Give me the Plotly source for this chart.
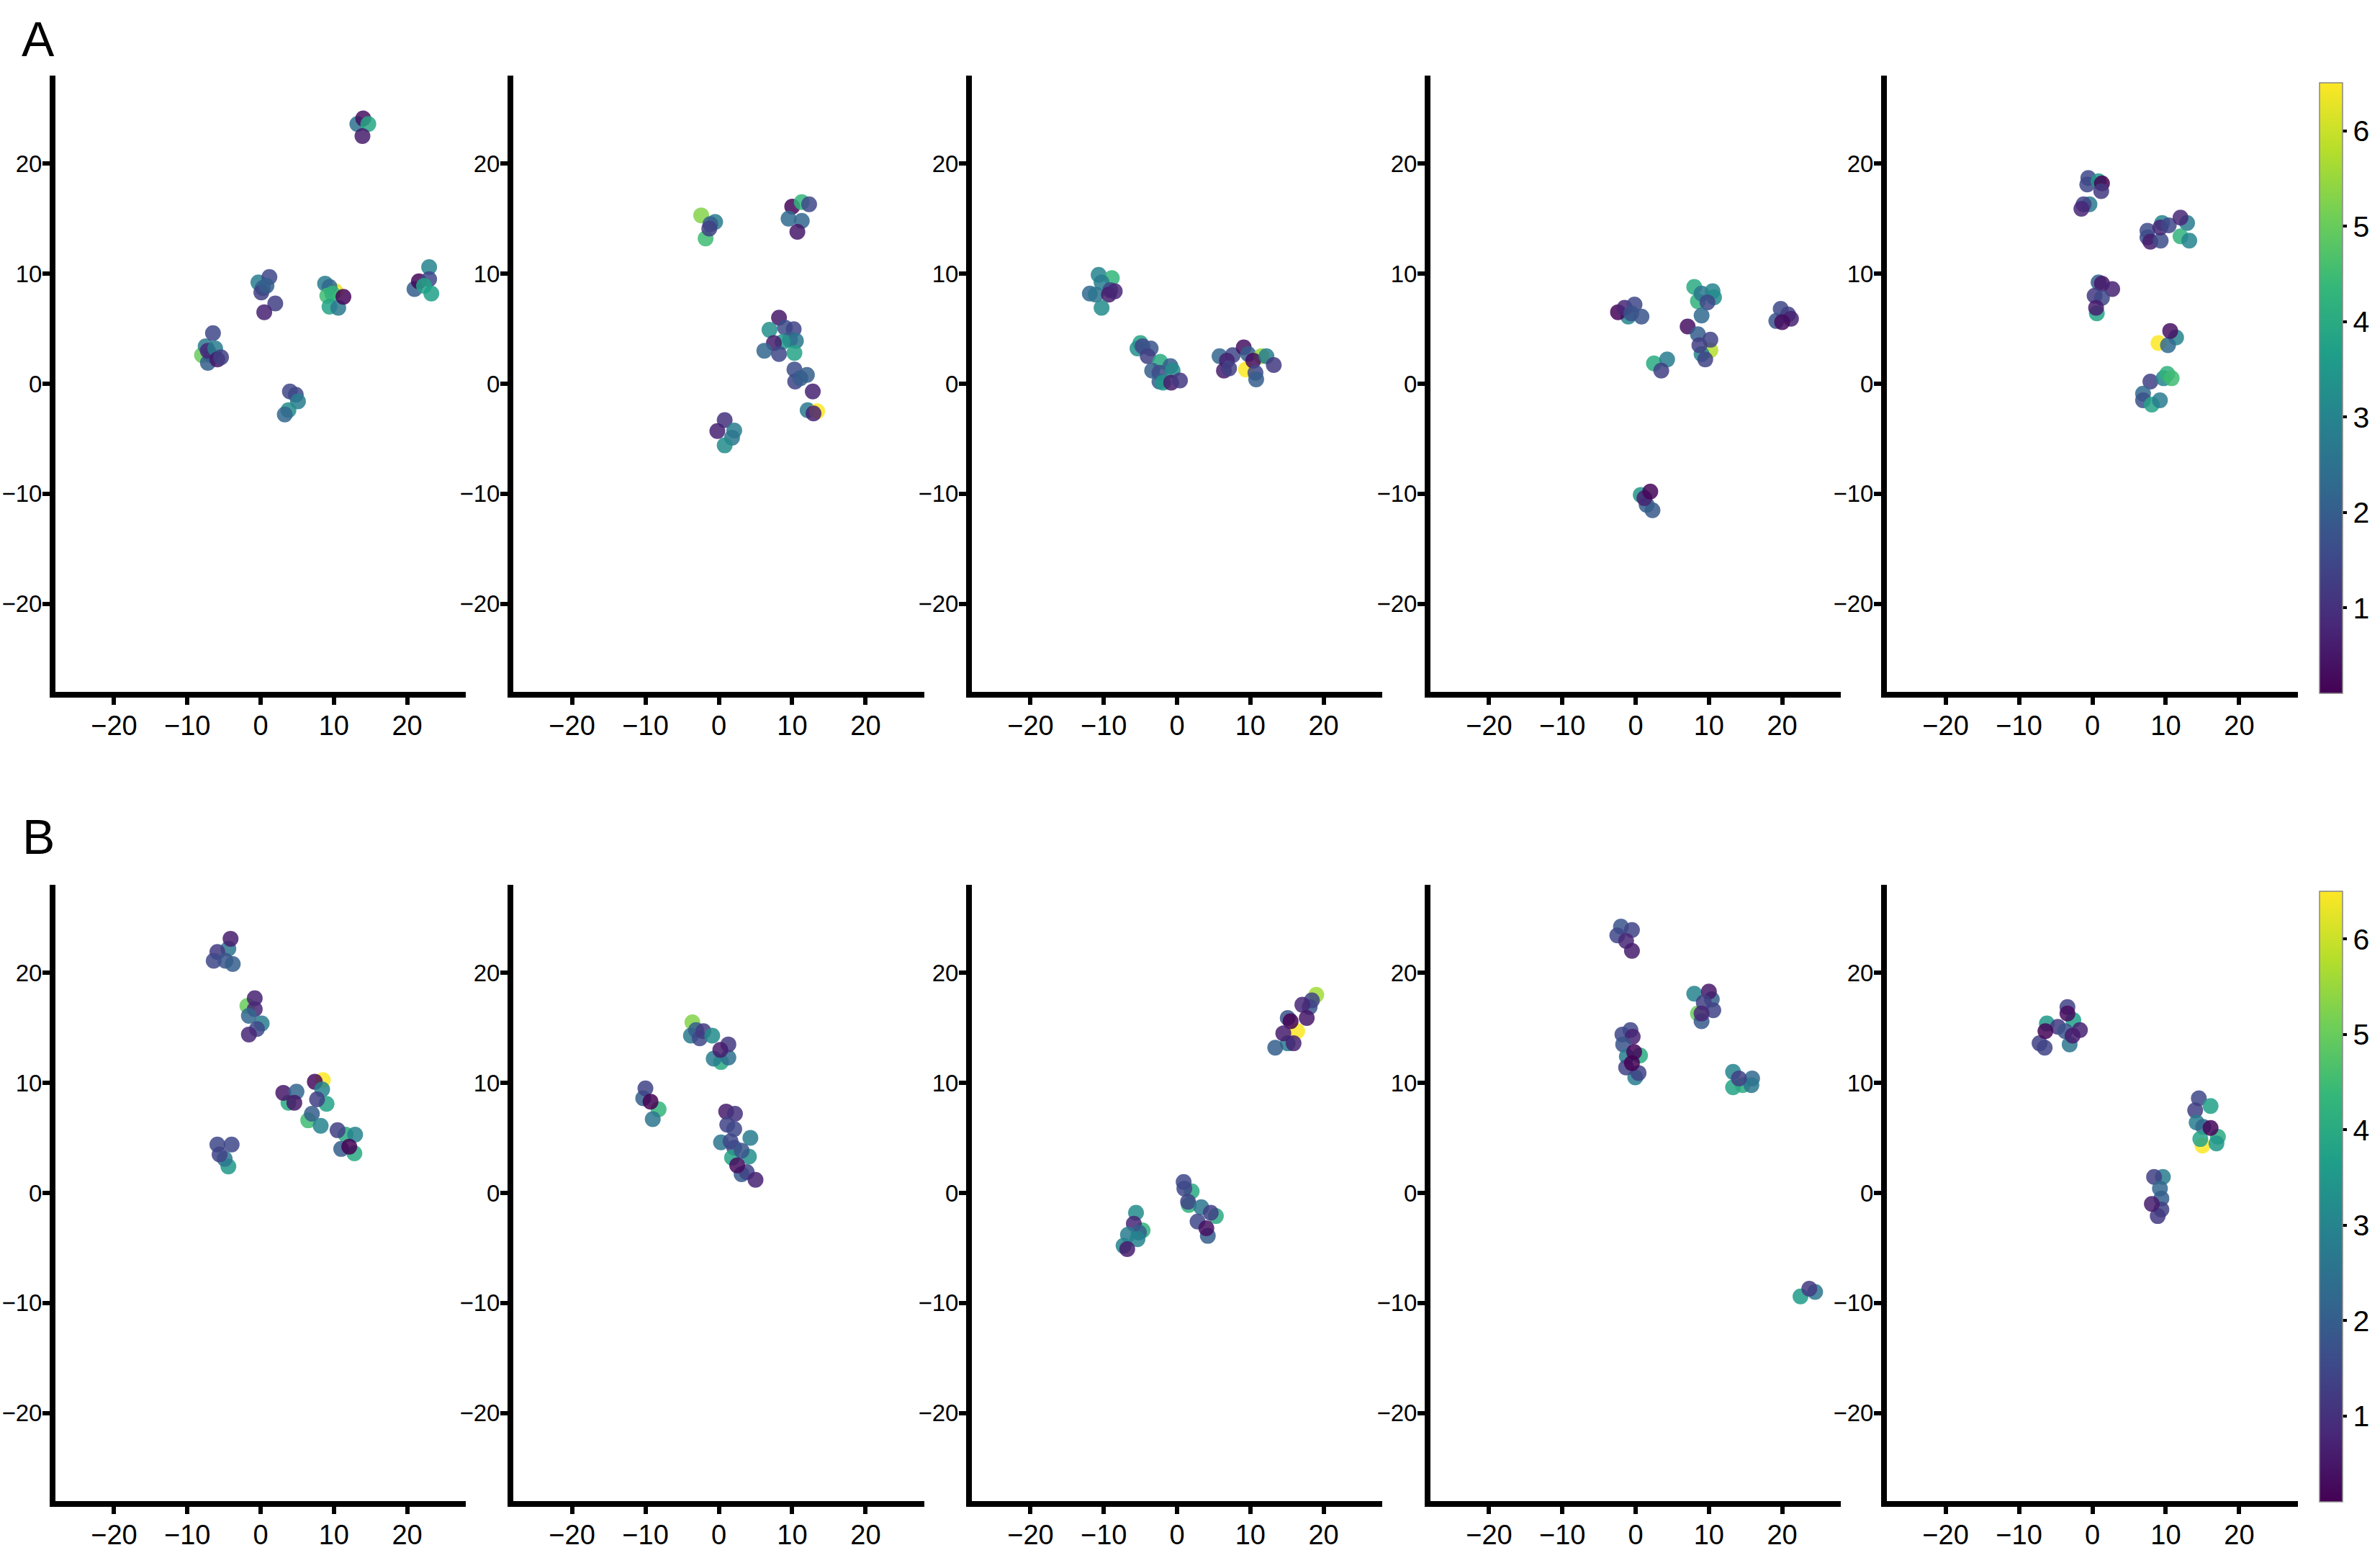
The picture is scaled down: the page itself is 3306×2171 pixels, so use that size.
import plotly.graph_objects as go

# ---------------- data (x, y, colour value) per panel ----------------
A1_x = [13.2, 14.0, 14.7, 13.9, -0.3, 1.2, 0.3, 0.1, 0.8, 2.0, 0.5, 10.2, 8.8, 9.4, 9.1, 9.8, 9.4, 10.6, 11.3,
        21.0, 21.6, 23.0, 23.0, 22.3, 23.3, -8.0, -7.5, -6.5, -7.2, -6.8, -7.2, -6.2, -5.9, -5.4, 4.0, 4.8, 5.1, 3.8, 3.3]
A1_y = [23.6, 24.1, 23.6, 22.5, 9.2, 9.7, 8.7, 8.3, 8.9, 7.3, 6.5, 8.4, 9.1, 8.8, 8.0, 8.2, 7.0, 6.9, 7.9,
        8.6, 9.3, 10.6, 9.5, 8.9, 8.2, 2.6, 3.4, 4.6, 1.9, 2.6, 3.0, 3.2, 2.2, 2.4, -0.7, -1.0, -1.6, -2.4, -2.8]
A1_c = [2.5, 0.4, 3.9, 0.6, 2.8, 1.5, 2.1, 1.3, 2.0, 1.3, 0.7, 6.3, 2.8, 2.2, 4.5, 4.2, 3.8, 2.7, 0.2,
        2.0, 0.2, 3.0, 1.5, 3.8, 3.7, 5.0, 2.7, 1.5, 2.0, 2.1, 0.8, 2.8, 0.5, 1.3, 1.5, 1.5, 2.8, 3.2, 2.2]

A2_x = [-2.4, -1.8, -0.5, -1.15, -1.3, 10.0, 11.3, 12.3, 9.5, 11.3, 10.7,
        8.2, 6.9, 9.0, 10.2, 9.7, 10.5, 8.7, 7.5, 6.2, 8.2, 10.3, 10.3, 10.4, 12.0, 11.1, 12.8, 12.1, 13.4, 12.9,
        0.8, -0.2, 2.1, 1.8, 0.8]
A2_y = [15.3, 13.2, 14.7, 14.5, 14.1, 16.1, 16.5, 16.3, 15.0, 14.8, 13.8,
        6.0, 4.9, 5.1, 4.95, 4.0, 3.9, 3.8, 3.7, 3.0, 2.7, 2.8, 1.3, 0.2, 0.8, 0.5, -0.7, -2.4, -2.5, -2.7,
        -3.3, -4.3, -4.25, -4.9, -5.6]
A2_c = [5.3, 4.5, 2.8, 2.0, 1.3, 0.2, 4.3, 1.5, 2.3, 2.2, 0.5,
        0.5, 3.3, 1.6, 1.4, 2.0, 2.6, 3.5, 0.6, 2.2, 1.5, 3.8, 1.6, 1.4, 2.0, 2.0, 0.7, 2.7, 6.5, 0.7,
        1.0, 0.7, 2.8, 2.6, 3.2]

A3_x = [-10.7, -8.9, -10.3, -11.9, -11.1, -9.1, -9.3, -8.5, -10.3,
        -5.0, -5.4, -4.7, -3.6, -4.0, -2.3, -3.4, -2.4, -0.9, -0.6, -2.4, -1.9, -0.8, 0.4,
        5.8, 7.6, 6.8, 6.4, 7.1, 9.1, 9.7, 9.4, 11.5, 10.4, 12.2, 13.2, 10.7, 10.8]
A3_y = [9.9, 9.6, 9.2, 8.2, 8.1, 8.5, 8.1, 8.4, 6.9,
        3.7, 3.2, 3.4, 3.2, 2.5, 2.0, 1.2, 1.0, 1.6, 1.2, 0.2, 0.1, 0.1, 0.3,
        2.5, 2.6, 2.1, 1.2, 1.4, 3.3, 2.7, 1.3, 2.5, 2.1, 2.5, 1.7, 1.0, 0.4]
A3_c = [3.0, 4.3, 2.8, 2.3, 2.6, 1.5, 0.6, 0.8, 3.2,
        3.8, 3.3, 1.5, 1.8, 1.3, 4.0, 2.0, 1.6, 2.0, 3.2, 2.0, 3.5, 0.6, 1.2,
        2.2, 1.5, 0.7, 0.6, 1.3, 0.4, 2.0, 6.5, 5.5, 0.3, 2.8, 1.2, 1.5, 2.0]

A4_x = [-1.0, -2.4, -1.5, -0.15, -0.6, 0.8,
        8.0, 8.5, 9.0, 10.5, 10.7, 9.8, 9.0, 7.1,
        10.2, 9.0, 8.5, 10.2, 8.7, 9.5,
        2.5, 4.3, 3.5,
        19.8, 20.8, 21.2, 19.2, 20.0,
        0.7, 2.3, 1.5, 1.2, 2.0]
A4_y = [6.1, 6.5, 6.9, 7.2, 6.4, 6.1,
        8.8, 7.5, 8.2, 8.4, 7.85, 7.4, 6.2, 5.2,
        3.05, 2.7, 4.5, 4.0, 3.5, 2.2,
        1.85, 2.2, 1.2,
        6.8, 6.3, 5.9, 5.7, 5.6,
        -10.1, -11.5, -11.0, -10.4, -9.8]
A4_c = [3.0, 0.2, 0.8, 1.5, 1.7, 1.8,
        4.0, 4.2, 2.6, 3.0, 3.2, 1.5, 2.3, 0.4,
        5.8, 3.0, 2.0, 1.4, 1.3, 1.4,
        4.0, 2.8, 1.3,
        1.5, 1.3, 0.7, 1.8, 0.3,
        3.5, 1.9, 2.0, 0.7, 0.2]

A5_x = [-0.56, -0.7, 0.84, 1.3, 1.2, -0.4, -1.2, -1.5,
        7.5, 7.5, 7.9, 9.3, 9.5, 9.25, 10.4, 12.9, 12.0, 12.0, 13.2,
        0.84, 1.3, 2.7, 0.3, 1.3, 0.6, 0.5,
        9.0, 11.4, 10.3, 10.6,
        7.9, 9.7, 10.2, 10.8, 6.9, 6.9, 8.1, 9.2]
A5_y = [18.7, 18.1, 18.4, 18.2, 17.5, 16.3, 16.3, 15.9,
        13.9, 13.3, 12.9, 13.0, 14.6, 14.2, 14.4, 14.6, 15.1, 13.4, 13.0,
        9.2, 9.1, 8.6, 8.0, 7.8, 6.4, 6.9,
        3.7, 4.2, 3.5, 4.8,
        0.2, 0.5, 0.9, 0.5, -0.9, -1.5, -1.9, -1.5]
A5_c = [1.5, 1.5, 3.5, 0.1, 1.2, 2.7, 1.4, 0.8,
        1.6, 1.6, 0.6, 1.6, 3.0, 0.8, 1.5, 2.8, 0.8, 4.2, 3.0,
        2.0, 0.5, 0.7, 1.2, 1.5, 3.8, 0.6,
        6.5, 3.0, 2.3, 0.4,
        1.3, 3.0, 4.2, 4.5, 2.3, 1.7, 3.8, 2.8]

B1_x = [-4.4, -4.1, -5.9, -6.4, -4.8, -3.8,
        -1.8, -0.8, -0.8, -1.6, 0.15, -0.5, -1.6,
        3.8, 3.1, 4.9, 4.6,
        8.5, 7.4, 8.4, 9.0, 7.7, 6.5, 7.0, 8.2,
        11.6, 12.8, 12.9, 10.5, 11.0, 12.1,
        -4.4, -4.9, -5.9, -3.95, -5.6]
B1_y = [22.2, 23.1, 21.9, 21.1, 21.1, 20.8,
        17.0, 17.7, 16.7, 16.1, 15.4, 14.9, 14.4,
        8.2, 9.1, 9.2, 8.2,
        10.25, 10.1, 9.4, 8.1, 8.5, 6.6, 7.2, 6.1,
        5.3, 3.6, 5.3, 5.7, 4.0, 4.2,
        2.4, 3.1, 4.4, 4.4, 3.5]
B1_c = [2.6, 0.6, 1.2, 1.5, 1.8, 2.0,
        5.0, 0.7, 0.8, 2.2, 2.8, 1.5, 0.8,
        4.0, 0.5, 2.2, 0.5,
        6.5, 0.3, 3.0, 3.8, 1.3, 4.5, 2.0, 3.0,
        4.0, 4.0, 3.0, 1.3, 2.0, 0.1,
        3.5, 2.6, 1.5, 1.5, 1.4]

B2_x = [-3.6, -3.8, -3.1, -2.6, -2.1, -0.9,
        0.3, -0.7, 1.3, 1.3, 0.2,
        -10.3, -10.0, -8.2, -9.3, -9.0,
        1.0, 2.2, 1.15, 2.1, 0.3, 1.6, 4.3, 2.1, 1.8, 4.1, 3.1, 3.1, 3.8, 2.5, 5.0]
B2_y = [15.5, 14.3, 14.8, 14.05, 14.7, 14.3,
        11.9, 12.2, 12.3, 13.5, 13.0,
        8.6, 9.5, 7.6, 8.3, 6.7,
        7.4, 7.2, 6.2, 5.8, 4.6, 4.7, 5.0, 4.1, 3.2, 3.3, 3.85, 1.7, 1.9, 2.5, 1.2]
B2_c = [5.3, 2.7, 2.0, 1.5, 1.2, 3.2,
        4.0, 2.8, 2.4, 1.2, 0.6,
        2.0, 1.4, 4.3, 0.1, 2.6,
        0.6, 1.0, 1.4, 1.5, 2.6, 1.5, 2.8, 1.5, 3.8, 3.3, 1.8, 1.9, 1.4, 0.3, 0.7]

B3_x = [19.0, 18.1, 18.4, 17.1, 17.7, 15.1, 16.4, 15.5, 15.1, 14.5, 15.9, 13.4,
        -4.7, -5.6, -5.9, -5.2, -6.7, -5.4, -7.3, -6.8,
        2.0, 0.9, 1.0, 1.6, 1.5, 5.3, 3.3, 4.6, 2.8, 4.2, 4.0]
B3_y = [18.0, 16.9, 17.5, 17.1, 15.9, 15.9, 14.7, 15.6, 13.6, 14.5, 13.6, 13.2,
        -3.4, -1.8, -2.8, -3.6, -3.8, -4.2, -4.8, -5.1,
        0.15, 1.0, 0.4, -1.1, -0.8, -2.1, -1.3, -1.8, -2.6, -3.9, -3.2]
B3_c = [5.6, 1.8, 1.4, 0.8, 0.5, 1.8, 6.5, 0.1, 2.8, 0.6, 0.7, 2.0,
        4.2, 3.2, 0.8, 2.0, 2.8, 3.0, 3.0, 0.6,
        4.0, 1.5, 1.5, 4.2, 1.4, 4.0, 2.6, 1.3, 1.5, 2.0, 0.4]

B4_x = [-2.0, -0.5, -2.5, -1.3, -0.5,
        8.5, 8.0, 10.4, 10.0, 9.3, 10.6, 9.0, 9.0,
        0.6, -1.8, -0.7, -0.4, -1.7, -1.2, -0.05, -1.3, 0.4, -0.2, -0.5,
        13.3, 14.6, 13.3, 15.9, 15.8, 14.1,
        24.5, 22.5, 23.7]
B4_y = [24.2, 23.9, 23.4, 22.9, 22.0,
        16.3, 18.1, 17.6, 18.3, 17.3, 16.6, 15.6, 16.3,
        12.5, 14.4, 14.8, 14.2, 13.5, 12.4, 10.5, 11.4, 10.9, 12.8, 11.8,
        9.6, 9.8, 11.0, 10.4, 9.8, 10.4,
        -9.0, -9.4, -8.7]
B4_c = [1.8, 1.4, 1.5, 0.8, 0.6,
        5.0, 3.0, 2.0, 0.5, 1.3, 1.4, 1.9, 0.8,
        4.0, 1.5, 1.5, 0.7, 1.8, 2.8, 2.8, 1.4, 1.4, 0.2, 0.1,
        3.8, 4.0, 3.0, 2.3, 2.6, 1.3,
        2.6, 3.6, 1.2]

B5_x = [-2.6, -3.1, -6.2, -3.4, -3.4, -4.7, -3.7, -7.2, -6.5, -6.4, -1.7, -2.7,
        14.5, 16.1, 14.0, 14.2, 15.1, 17.1, 15.0, 14.7, 16.9, 16.1,
        9.6, 8.4, 9.2, 9.4, 9.4, 8.9, 8.1]
B5_y = [15.7, 13.5, 15.4, 16.9, 16.3, 15.1, 14.7, 13.6, 13.2, 14.7, 14.8, 14.3,
        8.6, 7.9, 7.5, 6.4, 6.0, 5.1, 4.3, 4.9, 4.5, 5.9,
        1.45, 1.45, 0.4, -0.5, -1.5, -2.1, -1.0]
B5_c = [3.7, 2.6, 3.5, 1.4, 0.3, 1.2, 1.8, 1.3, 1.4, 0.2, 0.7, 0.6,
        1.5, 3.7, 1.3, 2.8, 2.3, 4.0, 6.5, 3.8, 3.5, 0.2,
        2.8, 1.3, 2.2, 2.0, 1.3, 1.2, 0.6]

tick_vals = [-20, -10, 0, 10, 20]
tick_text = ["\u221220", "\u221210", "0", "10", "20"]
cbar_vals = [1, 2, 3, 4, 5, 6]
panel_letters = ["A", "B"]

rows = [
    [(A1_x, A1_y, A1_c), (A2_x, A2_y, A2_c), (A3_x, A3_y, A3_c), (A4_x, A4_y, A4_c), (A5_x, A5_y, A5_c)],
    [(B1_x, B1_y, B1_c), (B2_x, B2_y, B2_c), (B3_x, B3_y, B3_c), (B4_x, B4_y, B4_c), (B5_x, B5_y, B5_c)],
]

# ---------------- layout geometry (pixels) ----------------
W, H = 3306, 2171
x_left = [77, 713, 1350, 1987, 2621]
x_right = [647, 1284, 1920, 2557, 3192]
row_top = [105, 1229]
row_bot = [961, 2085]
FONT = "Liberation Sans, Arial, Helvetica, sans-serif"

fig = go.Figure()
layout = {}
k = 0
for r, row in enumerate(rows):
    for c, (xs, ys, cs) in enumerate(row):
        k += 1
        sfx = "" if k == 1 else str(k)
        fig.add_trace(go.Scatter(
            x=xs, y=ys, mode="markers",
            xaxis="x" + sfx, yaxis="y" + sfx,
            marker=dict(color=cs, coloraxis="coloraxis" if r == 0 else "coloraxis2",
                        size=22, opacity=0.85, line=dict(width=0)),
            showlegend=False, hoverinfo="skip",
        ))
        common = dict(range=[-28, 28], showgrid=False, zeroline=False, showline=True,
                      linewidth=8, linecolor="black", ticks="outside", ticklen=10,
                      tickwidth=6, tickcolor="black", tickvals=tick_vals, ticktext=tick_text,
                      automargin=False, fixedrange=True)
        layout["xaxis" + sfx] = dict(domain=[x_left[c] / W, x_right[c] / W],
                                     anchor="y" + sfx, ticklabelstandoff=-4,
                                     tickfont=dict(family=FONT, size=38, color="black"), **common)
        layout["yaxis" + sfx] = dict(domain=[1 - row_bot[r] / H, 1 - row_top[r] / H],
                                     anchor="x" + sfx, ticklabelstandoff=-6,
                                     tickfont=dict(family=FONT, size=33, color="black"), **common)

def cax(ymid):
    return dict(colorscale="Viridis", cmin=0.1, cmax=6.5,
                colorbar=dict(x=3222 / W, xanchor="left", xpad=0, ypad=0,
                              y=ymid, yanchor="middle", len=848 / H, lenmode="fraction",
                              thickness=32, thicknessmode="pixels",
                              tickvals=cbar_vals, ticks="outside", ticklen=6, tickwidth=4,
                              tickcolor="black", outlinewidth=1.5, outlinecolor="#888888",
                              tickfont=dict(family=FONT, size=41, color="black")))

layout["coloraxis"] = cax(1 - 539.5 / H)
layout["coloraxis2"] = cax(1 - 1662 / H)

annotations = []
for i, letter in enumerate(panel_letters):
    annotations.append(dict(text=letter, x=53 / W, y=1 - (54 if i == 0 else 1162) / H,
                            xref="paper", yref="paper", showarrow=False,
                            xanchor="center", yanchor="middle",
                            font=dict(family=FONT, size=68, color="black")))

fig.update_layout(template="none", width=W, height=H, margin=dict(l=0, r=0, t=0, b=0, pad=0),
                  paper_bgcolor="white", plot_bgcolor="white",
                  annotations=annotations, **layout)

fig.write_html("out.html", config={"displayModeBar": False},
               post_script="document.body.style.margin='0';document.body.style.overflow='hidden';")
